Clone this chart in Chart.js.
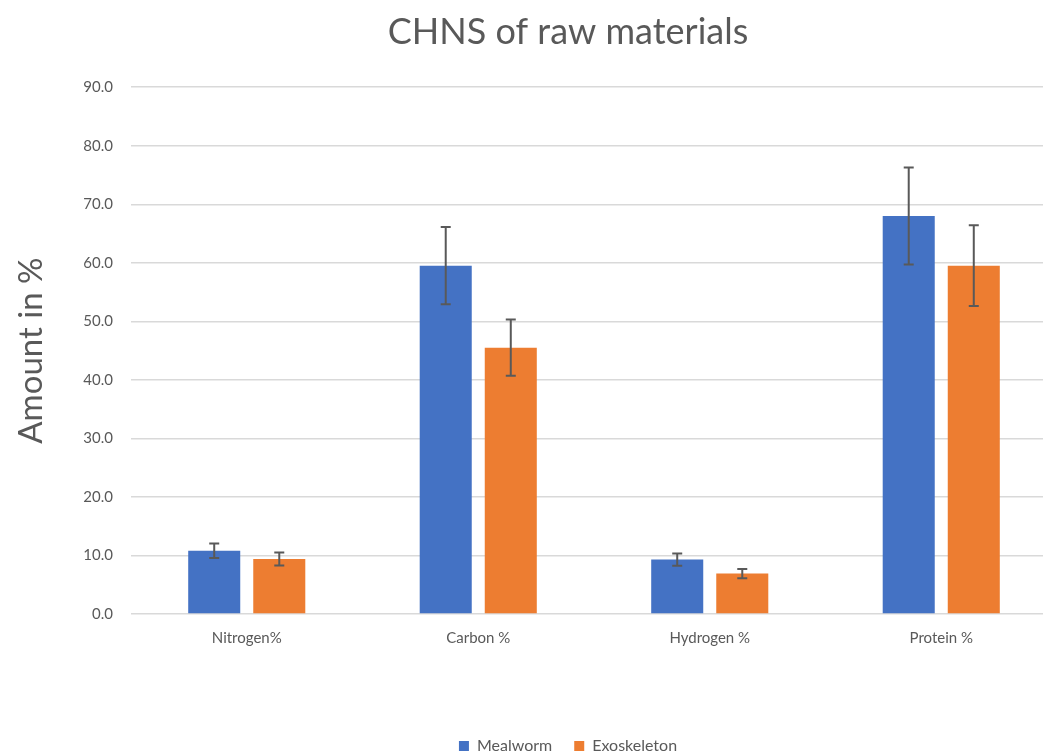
<!DOCTYPE html>
<html>
<head>
<meta charset="utf-8">
<script src="https://cdn.jsdelivr.net/npm/chart.js@4"></script>
<style>
  html,body{margin:0;padding:0;background:#fff;overflow:hidden;}
  .wrap{width:1136px;height:764px;position:relative;}
</style>
</head>
<body>
<div class="wrap"><canvas id="chnsChart"></canvas></div>
<script>
const categories = ["Nitrogen%","Carbon %","Hydrogen %","Protein %"];
const mealworm = [10.8, 59.5, 9.3, 68.0];
const mealwormErr = [1.25, 6.6, 1.05, 8.3];
const exoskeleton = [9.4, 45.5, 6.9, 59.5];
const exoskeletonErr = [1.1, 4.8, 0.8, 6.9];
const yTicks = [0,10,20,30,40,50,60,70,80,90];

const grey = "#595959";
const font = "Lato, 'Open Sans', sans-serif";

/* error bars drawn from the y scale */
const errorBars = {
  id:"errorBars",
  afterDatasetsDraw(chart){
    const {ctx, scales:{y}} = chart;
    ctx.save();
    ctx.strokeStyle = grey;
    ctx.lineWidth = 2;
    chart.data.datasets.forEach((ds,i)=>{
      const meta = chart.getDatasetMeta(i);
      meta.data.forEach((bar,j)=>{
        const v = ds.data[j], e = ds.err[j];
        const top = y.getPixelForValue(v+e), bot = y.getPixelForValue(v-e);
        const x = bar.x, w = 5;
        ctx.beginPath();
        ctx.moveTo(x,top); ctx.lineTo(x,bot);
        ctx.moveTo(x-w,top); ctx.lineTo(x+w,top);
        ctx.moveTo(x-w,bot); ctx.lineTo(x+w,bot);
        ctx.stroke();
      });
    });
    ctx.restore();
  }
};

new Chart(document.getElementById("chnsChart"),{
  type:"bar",
  data:{
    labels:categories,
    datasets:[
      {label:"Mealworm", data:mealworm, err:mealwormErr, backgroundColor:"#4472C4"},
      {label:"Exoskeleton", data:exoskeleton, err:exoskeletonErr, backgroundColor:"#ED7D31"}
    ]
  },
  options:{
    responsive:true,
    maintainAspectRatio:false,
    animation:false,
    categoryPercentage:0.562,
    barPercentage:0.8,
    layout:{padding:0},
    plugins:{
      title:{display:true,text:"CHNS of raw materials",color:grey,
        font:{family:font,size:36,weight:"normal"},padding:{top:11,bottom:33}},
      legend:{position:"bottom",
        labels:{color:grey,font:{family:font,size:16},boxWidth:10,boxHeight:10,padding:22}},
      tooltip:{enabled:false}
    },
    scales:{
      x:{
        grid:{display:false},
        border:{display:false},
        ticks:{color:grey,font:{family:font,size:15},padding:7},
        afterFit(s){ s.height = 102; }
      },
      y:{
        min:0,max:90,
        afterBuildTicks(s){ s.ticks = yTicks.map(v=>({value:v})); },
        grid:{color:"#d9d9d9",lineWidth:1.5,drawTicks:false},
        border:{display:false},
        ticks:{color:grey,font:{family:font,size:15},padding:18,callback:v=>v.toFixed(1)},
        title:{display:true,text:"Amount in %",color:grey,padding:{top:12,bottom:0},
          font:{family:font,size:33,weight:"normal"}},
        afterFit(s){ s.width = 131; }
      },
      /* empty right margin, the source chart runs past the picture edge */
      yRight:{
        position:"right",
        grid:{display:false},
        border:{display:false},
        ticks:{display:false},
        afterFit(s){ s.width = 79; }
      }
    }
  },
  plugins:[errorBars]
});
</script>
</body>
</html>
